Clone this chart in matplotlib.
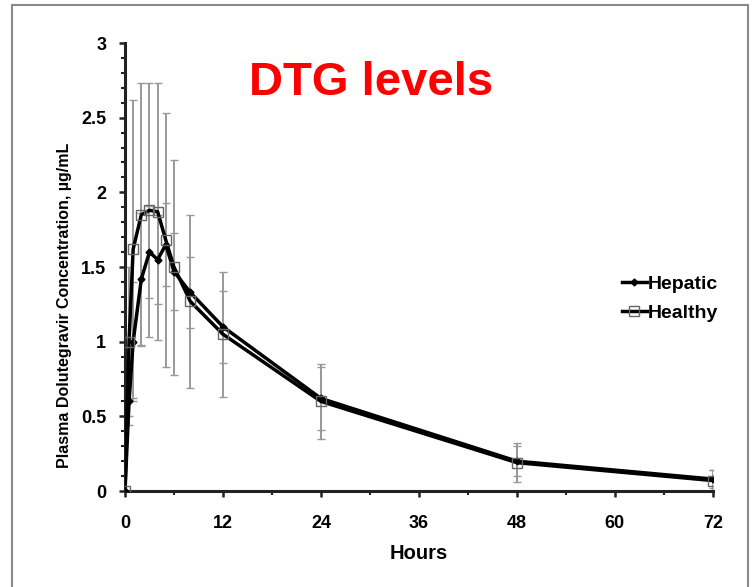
import matplotlib
matplotlib.use("Agg")
import matplotlib.pyplot as plt
from matplotlib.ticker import MultipleLocator, FuncFormatter
from matplotlib.patches import Rectangle

plt.rcParams['font.family'] = ['Liberation Sans', 'DejaVu Sans']

# hours after dose
hours = [0, 0.5, 1, 2, 3, 4, 5, 6, 8, 12, 24, 48, 72]

# mean concentrations (ug/mL) and SD
hepatic = [0, 0.6, 1.0, 1.42, 1.6, 1.55, 1.65, 1.47, 1.33, 1.1, 0.62, 0.2, 0.08]
hepatic_sd = [0, 0.16, 0.4, 0.44, 0.31, 0.3, 0.28, 0.26, 0.24, 0.24, 0.21, 0.1, 0.06]
healthy = [0, 1.0, 1.62, 1.85, 1.88, 1.87, 1.68, 1.5, 1.27, 1.05, 0.6, 0.19, 0.07]
healthy_sd = [0, 0.5, 1.0, 0.88, 0.85, 0.86, 0.85, 0.72, 0.58, 0.42, 0.25, 0.13, 0.07]

fig = plt.figure(figsize=(7.52, 5.87), dpi=100)
ax = fig.add_axes([0.1662, 0.1635, 0.7818, 0.7632])

# frame round the whole picture
fig.patches.append(Rectangle((12 / 752, -0.01), 736 / 752, 1 - 5 / 587 + 0.01,
                             transform=fig.transFigure, fill=False,
                             edgecolor='#8a8a8a', lw=1.5))

ax.errorbar(hours, healthy, yerr=healthy_sd, fmt='none', ecolor='#999999',
            elinewidth=1.4, capsize=3, capthick=1.0, zorder=1)
ax.errorbar(hours, hepatic, yerr=hepatic_sd, fmt='none', ecolor='#999999',
            elinewidth=1.4, capsize=3, capthick=1.0, zorder=1)

ax.plot(hours, hepatic, color='black', lw=2.5, marker='D', ms=3.5,
        mfc='black', mec='black', label='Hepatic', zorder=3)
ax.plot(hours, healthy, color='black', lw=2.5, marker='s', ms=7,
        mfc='none', mec='#666666', mew=1.0, label='Healthy', zorder=3)

ax.set_xlim(0, 72)
ax.set_ylim(0, 3)
ax.xaxis.set_major_locator(MultipleLocator(12))
ax.xaxis.set_minor_locator(MultipleLocator(6))
ax.yaxis.set_major_locator(MultipleLocator(0.5))
ax.yaxis.set_minor_locator(MultipleLocator(0.1))
ax.yaxis.set_major_formatter(FuncFormatter(lambda v, p: '{:g}'.format(v)))

for s in ['top', 'right']:
    ax.spines[s].set_visible(False)
for s in ['left', 'bottom']:
    ax.spines[s].set_linewidth(2.2)
    ax.spines[s].set_color('#222222')
ax.spines['bottom'].set_bounds(0, 72)

ax.tick_params(which='major', direction='out', length=4.5, width=1.8,
               labelsize=13, color='#222222')
ax.tick_params(axis='x', which='major', pad=13)
ax.tick_params(axis='y', which='major', pad=9)
ax.tick_params(which='minor', direction='out', length=3, width=1.5, color='#222222')
for lab in ax.get_xticklabels() + ax.get_yticklabels():
    lab.set_fontweight('bold')

ax.set_xlabel('Hours', fontsize=14.5, fontweight='bold')
ax.xaxis.set_label_coords(0.5, -0.118)
ax.set_ylabel('Plasma Dolutegravir Concentration, µg/mL', fontsize=11.5,
              fontweight='bold')
ax.yaxis.set_label_coords(-0.09, 0.415)

leg = ax.legend(loc='center left', bbox_to_anchor=(0.845, 0.43), frameon=False,
                fontsize=14, handlelength=1.3, handletextpad=0.05,
                labelspacing=0.6, borderpad=0, borderaxespad=0)
for t in leg.get_texts():
    t.set_fontweight('bold')

fig.text(0.493, 0.858, 'DTG levels', color='#ff0000', fontsize=34,
         fontweight='bold', ha='center', va='center')

fig.savefig('out.png', dpi=100)
